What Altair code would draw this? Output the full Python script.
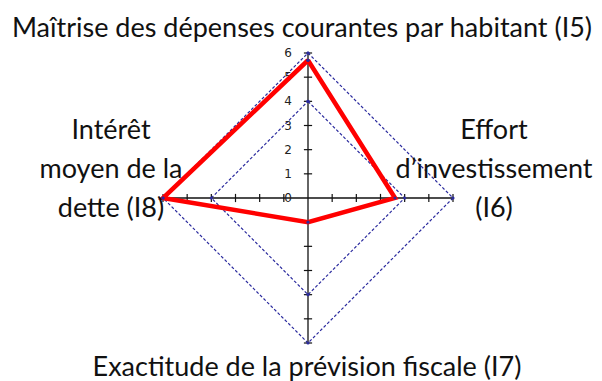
import math
import altair as alt
import pandas as pd

# ---- data ----
categories = [
    "Maîtrise des dépenses courantes par habitant (I5)",
    "Effort d’investissement (I6)",
    "Exactitude de la prévision fiscale (I7)",
    "Intérêt moyen de la dette (I8)",
]
values = [5.7, 3.6, 1.0, 6.0]
angles = [90, 0, 270, 180]          # direction of each axis (degrees)
grid_levels = [4, 6]
tick_values = [0, 1, 2, 3, 4, 5, 6]
axis_max = 6

# ---- derived tables ----
def pt(r, a):
    return r * math.cos(math.radians(a)), r * math.sin(math.radians(a))

poly_rows = []
for i, (c, v, a) in enumerate(list(zip(categories, values, angles)) + [(categories[0], values[0], angles[0])]):
    x, y = pt(v, a)
    poly_rows.append({"cat": c, "value": v, "x": x, "y": y, "order": i})
poly = pd.DataFrame(poly_rows)

grid_rows = []
for L in grid_levels:
    for i, a in enumerate(angles + [angles[0]]):
        x, y = pt(L, a)
        grid_rows.append({"level": L, "x": x, "y": y, "order": i})
grid = pd.DataFrame(grid_rows)

axes_df = pd.DataFrame([
    {"x": -axis_max, "x2": axis_max, "y": 0, "y2": 0},
    {"x": 0, "x2": 0, "y": -axis_max, "y2": axis_max},
])

TICK_HALF = 0.17  # in data units
tick_rows = []
for k in tick_values[1:]:
    for a in angles:
        x, y = pt(k, a)
        if a in (0, 180):
            tick_rows.append({"x": x, "x2": x, "y": -TICK_HALF, "y2": TICK_HALF})
        else:
            tick_rows.append({"x": -TICK_HALF, "x2": TICK_HALF, "y": y, "y2": y})
ticks = pd.DataFrame(tick_rows)

labels = pd.DataFrame({"x": [0] * len(tick_values), "y": tick_values, "t": [str(v) for v in tick_values]})

dots = pd.concat([poly[["x", "y"]], grid[["x", "y"]]], ignore_index=True)

sx = alt.Scale(domain=[-axis_max, axis_max], nice=False, zero=False)
sy = alt.Scale(domain=[-axis_max, axis_max], nice=False, zero=False)
X = alt.X("x:Q", scale=sx, axis=None)
Y = alt.Y("y:Q", scale=sy, axis=None)

NAVY = "#2b2b9e"
FONT = "Lato"
FS = 27

grid_layer = alt.Chart(grid).mark_line(color=NAVY, strokeWidth=1.2, strokeDash=[3, 2]).encode(
    x=X, y=Y, detail="level:N", order="order:Q")
axis_layer = alt.Chart(axes_df).mark_rule(color="#111111", strokeWidth=1.3).encode(
    x=X, x2="x2:Q", y=Y, y2="y2:Q")
tick_layer = alt.Chart(ticks).mark_rule(color="#111111", strokeWidth=1.2).encode(
    x=X, x2="x2:Q", y=Y, y2="y2:Q")
label_layer = alt.Chart(labels).mark_text(
    font="DejaVu Sans", fontSize=12, color="#222222", align="right", baseline="middle", dx=-16
).encode(x=X, y=Y, text="t:N")
poly_layer = alt.Chart(poly).mark_line(color="#ff0000", strokeWidth=4.5, strokeJoin="miter").encode(
    x=X, y=Y, order="order:Q")
dot_layer = alt.Chart(dots).mark_circle(color=NAVY, size=10, opacity=1).encode(x=X, y=Y)

def txt(lines, x, y):
    return alt.Chart(pd.DataFrame({"a": [0]})).mark_text(
        text=lines, font=FONT, fontSize=FS, color="#111111", align="center",
        baseline="alphabetic", lineHeight=39
    ).encode(x=alt.value(x), y=alt.value(y))

title_layer = txt(categories[0], 139, -16)
right_layer = txt(["Effort", "d’investissement", "(I6)"], 331, 86)
bottom_layer = txt(categories[2], 144, 323)
left_layer = txt(["Intérêt", "moyen de la", "dette (I8)"], -52, 86)

chart = alt.layer(
    grid_layer, axis_layer, tick_layer, label_layer, poly_layer, dot_layer,
    title_layer, right_layer, bottom_layer, left_layer,
).properties(
    width=290, height=290,
    autosize=alt.AutoSizeParams(type="none"),
    padding={"left": 155, "top": 45, "right": 141, "bottom": 40},
).configure_view(stroke=None)

chart.save("out.html", embed_options={"renderer": "svg", "actions": False})
